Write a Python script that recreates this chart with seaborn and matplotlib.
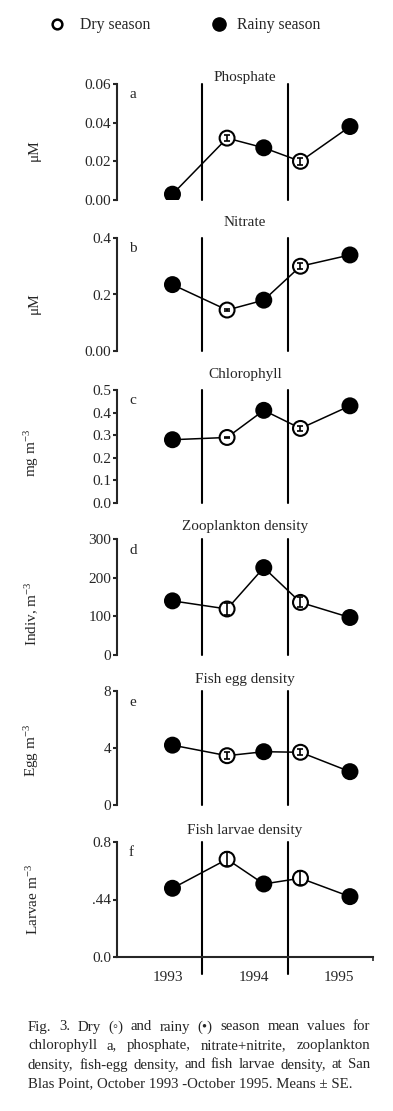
import pandas as pd
import matplotlib
matplotlib.use("Agg")
import matplotlib.pyplot as plt
import seaborn as sns
from matplotlib.lines import Line2D

# ------------------------------------------------------------------
# Data (San Blas Point, Oct 1993 - Oct 1995)
# ------------------------------------------------------------------
sample_pos = [1993.65, 1994.29, 1994.72, 1995.15, 1995.73]   # time axis, years
season = ["Rainy season", "Dry season", "Rainy season", "Dry season", "Rainy season"]
year_labels = ["1993", "1994", "1995"]
year_bounds = [1994, 1995]

phosphate = [0.003, 0.032, 0.027, 0.020, 0.038]
phosphate_se = [0.001, 0.0017, 0.001, 0.0017, 0.001]
nitrate = [0.235, 0.145, 0.18, 0.30, 0.34]
nitrate_se = [0.005, 0.005, 0.005, 0.01, 0.005]
chlorophyll = [0.28, 0.29, 0.41, 0.33, 0.43]
chlorophyll_se = [0.005, 0.004, 0.005, 0.012, 0.005]
zooplankton = [140, 119, 226, 136, 97]
zooplankton_se = [5, 15, 5, 13, 5]
fish_egg = [4.2, 3.46, 3.74, 3.7, 2.34]
fish_egg_se = [0.1, 0.25, 0.1, 0.22, 0.1]
fish_larvae = [0.478, 0.68, 0.508, 0.548, 0.42]
fish_larvae_se = [0.01, 0.05, 0.01, 0.048, 0.01]

panel_titles = ["Phosphate", "Nitrate", "Chlorophyll", "Zooplankton density",
                "Fish egg density", "Fish larvae density"]
panel_letters = ["a", "b", "c", "d", "e", "f"]
y_labels = ["μM", "μM", "mg m$^{\\mathrm{-3}}$", "Indiv, m$^{\\mathrm{-3}}$",
            "Egg m$^{\\mathrm{-3}}$", "Larvae m$^{\\mathrm{-3}}$"]
y_ticks = [[0, 0.02, 0.04, 0.06], [0, 0.2, 0.4], [0, 0.1, 0.2, 0.3, 0.4, 0.5],
           [0, 100, 200, 300], [0, 4, 8], [0, 0.4, 0.8]]
y_ticklabels = [["0.00", "0.02", "0.04", "0.06"], ["0.00", "0.2", "0.4"],
                ["0.0", "0.1", "0.2", "0.3", "0.4", "0.5"], ["0", "100", "200", "300"],
                ["0", "4", "8"], ["0.0", ".44", "0.8"]]

values = [phosphate, nitrate, chlorophyll, zooplankton, fish_egg, fish_larvae]
errors = [phosphate_se, nitrate_se, chlorophyll_se, zooplankton_se, fish_egg_se, fish_larvae_se]

caption_lines = [
    "Fig. 3. Dry (◦) and rainy (•) season mean values for",
    "chlorophyll a, phosphate, nitrate+nitrite, zooplankton",
    "density, fish-egg density, and fish larvae density, at San",
    "Blas Point, October 1993 -October 1995. Means ± SE.",
]

# ------------------------------------------------------------------
# Layout (pixels of a 393 x 1111 canvas)
# ------------------------------------------------------------------
W, H = 393, 1111
ax_left, ax_width = 117, 256
tops = [84, 238, 390, 539, 691, 842]
bottoms = [200, 351, 503, 655, 805, 957]
title_pads = [1, 8.6, 8.6, 6.2, 5.5, 6.0]
ylabel_y = [0.43, 0.42, 0.44, 0.36, 0.48, 0.5]

sns.set_theme(style="ticks")
plt.rcParams["font.family"] = ["Liberation Serif", "DejaVu Sans"]
plt.rcParams["mathtext.fontset"] = "custom"
plt.rcParams["mathtext.rm"] = "Liberation Serif"
plt.rcParams["mathtext.it"] = "Liberation Serif:italic"

fig = plt.figure(figsize=(W / 100, H / 100), dpi=100)
palette = {"Dry season": "white", "Rainy season": "black"}

for i in range(6):
    top, bot = tops[i], bottoms[i]
    ax = fig.add_axes([ax_left / W, 1 - bot / H, ax_width / W, (bot - top) / H])
    df = pd.DataFrame({"x": sample_pos, "value": values[i], "se": errors[i], "Season": season})

    sns.lineplot(data=df, x="x", y="value", color="black", lw=1.1, ax=ax, zorder=2)
    rainy = df[df["Season"] == "Rainy season"]
    dry = df[df["Season"] == "Dry season"]
    ax.errorbar(rainy["x"], rainy["value"], yerr=rainy["se"], fmt="none",
                ecolor="black", elinewidth=1, capsize=2, zorder=2.5)
    sns.scatterplot(data=df, x="x", y="value", hue="Season", palette=palette,
                    edgecolor="black", linewidth=1.5, s=115, ax=ax, legend=False, zorder=3)
    ax.errorbar(dry["x"], dry["value"], yerr=dry["se"], fmt="none",
                ecolor="black", elinewidth=1.2, capsize=2.2, capthick=1.2, zorder=4)

    ax.set_xlim(1993, 1996)
    ax.set_ylim(0, y_ticks[i][-1])
    ax.set_yticks(y_ticks[i])
    ax.set_yticklabels(y_ticklabels[i])
    ax.tick_params(axis="y", direction="out", length=3, width=1.5, labelsize=11, pad=1)

    last = i == 5
    sns.despine(ax=ax, bottom=not last)
    ax.spines["left"].set_linewidth(1.5)
    ax.spines["bottom"].set_linewidth(1.5)

    drop = -17 / (bot - top) if last else 0
    for b in year_bounds:
        ax.axvline(b, ymin=drop, ymax=1, color="black", lw=1.5, clip_on=False, zorder=1)

    if last:
        ax.set_xticks([int(y) + 0.6 for y in year_labels])
        ax.set_xticklabels(year_labels)
        ax.set_xticks([1996], minor=True)
        ax.tick_params(axis="x", which="major", length=0, labelsize=11, pad=10)
        ax.tick_params(axis="x", which="minor", length=3, width=1.2, direction="out")
    else:
        ax.set_xticks([])

    ax.set_xlabel("")
    ax.set_ylabel(y_labels[i], fontsize=11)
    ax.yaxis.set_label_coords(-0.297, ylabel_y[i])
    ax.set_title(panel_titles[i], fontsize=11, pad=title_pads[i])
    ax.text(12 / ax_width, 1 - 11 / (bot - top), panel_letters[i], transform=ax.transAxes,
            fontsize=11, va="center", ha="left")

# Legend at the top
dry_handle = Line2D([], [], marker="o", ls="none", markersize=7, markerfacecolor="white",
                    markeredgecolor="black", markeredgewidth=1.8)
rainy_handle = Line2D([], [], marker="o", ls="none", markersize=9.5, markerfacecolor="black",
                      markeredgecolor="black")
fig.legend([dry_handle], ["Dry season"], loc="center left",
           bbox_to_anchor=(49 / W, 1 - 25 / H), frameon=False, fontsize=11.3,
           handlelength=1, handletextpad=0.95, borderpad=0, borderaxespad=0)
fig.legend([rainy_handle], ["Rainy season"], loc="center left",
           bbox_to_anchor=(211 / W, 1 - 25 / H), frameon=False, fontsize=11.3,
           handlelength=1, handletextpad=0.65, borderpad=0, borderaxespad=0)

# Justified caption
renderer = fig.canvas.get_renderer()
cap_left, cap_right = 28, 370
cap_size = 10.7
cap_y = [1027, 1046, 1065, 1084]
for li, line in enumerate(caption_lines):
    y = 1 - cap_y[li] / H
    if li == len(caption_lines) - 1:
        fig.text(cap_left / W, y, line, fontsize=cap_size, va="center", ha="left")
        continue
    words = line.split(" ")
    texts = [fig.text(0, y, w, fontsize=cap_size, va="center", ha="left") for w in words]
    widths = [t.get_window_extent(renderer).width for t in texts]
    gap = (cap_right - cap_left - sum(widths)) / (len(words) - 1)
    x = cap_left
    for t, w in zip(texts, widths):
        t.set_x(x / W)
        x += w + gap

fig.savefig("out.png", dpi=100)
